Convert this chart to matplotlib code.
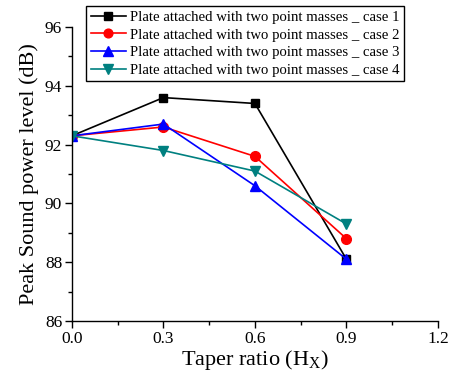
import matplotlib
matplotlib.use("Agg")
import matplotlib.pyplot as plt
from matplotlib.ticker import MultipleLocator, FormatStrFormatter

plt.rcParams['font.family'] = ['Liberation Serif', 'DejaVu Serif']
plt.rcParams['mathtext.fontset'] = 'custom'
plt.rcParams['mathtext.rm'] = 'Liberation Serif'
plt.rcParams['mathtext.it'] = 'Liberation Serif'

taper_ratio = [0.0, 0.3, 0.6, 0.9]
case1 = [92.3, 93.6, 93.4, 88.1]
case2 = [92.3, 92.6, 91.6, 88.8]
case3 = [92.3, 92.7, 90.6, 88.1]
case4 = [92.3, 91.8, 91.1, 89.3]
labels = ["Plate attached with two point masses _ case 1",
          "Plate attached with two point masses _ case 2",
          "Plate attached with two point masses _ case 3",
          "Plate attached with two point masses _ case 4"]

fig = plt.figure(figsize=(4.61, 3.81), dpi=100)
ax = fig.add_axes([0.156, 0.1575, 0.794, 0.7715])

styles = [("black", "s", 6), ("red", "o", 7), ("blue", "^", 7.5), ("#008080", "v", 7.5)]
for vals, lab, (c, m, ms) in zip([case1, case2, case3, case4], labels, styles):
    ax.plot(taper_ratio, vals, color=c, marker=m, markersize=ms, lw=1.2,
            markeredgecolor=c, label=lab)

ax.set_xlim(0.0, 1.2)
ax.set_ylim(86, 96)
ax.xaxis.set_major_locator(MultipleLocator(0.3))
ax.xaxis.set_minor_locator(MultipleLocator(0.15))
ax.yaxis.set_major_locator(MultipleLocator(2))
ax.yaxis.set_minor_locator(MultipleLocator(1))
ax.xaxis.set_major_formatter(FormatStrFormatter('%.1f'))
ax.yaxis.set_major_formatter(FormatStrFormatter('%d'))

for s in ['top', 'right']:
    ax.spines[s].set_visible(False)
for s in ['left', 'bottom']:
    ax.spines[s].set_linewidth(1.0)
ax.tick_params(which='major', direction='out', length=5, width=1, labelsize=12.5, pad=2)
ax.tick_params(which='minor', direction='out', length=3, width=1)

ax.set_xlabel(r"Taper ratio (H$_\mathrm{X}$)", fontsize=16, labelpad=1)
ax.set_ylabel("Peak Sound power level (dB)", fontsize=16, labelpad=4)

leg = fig.legend(loc='upper left', bbox_to_anchor=(0.187, 0.984), fontsize=10.6,
                 frameon=True, fancybox=False, edgecolor='black', framealpha=1,
                 borderaxespad=0, handlelength=2.4, handletextpad=0.3,
                 labelspacing=0.3, borderpad=0.3, markerscale=0.9)
leg.get_frame().set_linewidth(1.0)

fig.savefig("out.png", dpi=100)
